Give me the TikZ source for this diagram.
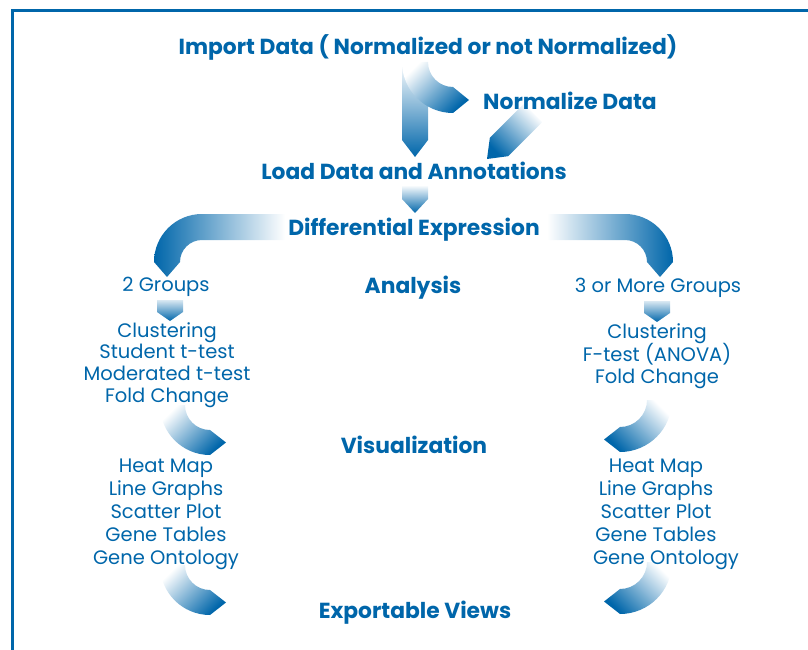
\documentclass[tikz,border=0pt]{standalone}
\usepackage{fontspec}
\setmainfont{Poppins}
\usetikzlibrary{calc}

\definecolor{flowblue}{RGB}{0,102,170}

\tikzset{
  heading/.style={text=flowblue, font=\fontsize{21.8}{26}\selectfont\bfseries,
    anchor=base, inner sep=0pt},
  listtext/.style={text=flowblue, font=\fontsize{19.5}{23}\selectfont,
    anchor=base, inner sep=0pt},
  fadedown/.style={top color=white, bottom color=flowblue},
}

% straight band arrow: start, tip, tip length
\newcommand\bandarrow[4][]{%
  \path[#1] ($(#2)!13pt!90:(#3)$) -- ($($(#3)!#4!(#2)$)!13pt!90:(#3)$) -- (#3)
    -- ($($(#3)!#4!(#2)$)!13pt!-90:(#3)$) -- ($(#2)!13pt!-90:(#3)$) -- cycle;}

\begin{document}
\begin{tikzpicture}[x=1pt, y=-1pt]
  \useasboundingbox (0,0) rectangle (808,650);
  % frame
  \draw[flowblue, line width=3pt] (808,10.5) -- (12,10.5) -- (12,650);

  % connector ends
  \coordinate (import-out) at (415,62);
  \coordinate (load-in) at (415,157);
  \coordinate (norm-c) at (453,62);
  \coordinate (norm-out) at (533,113);
  \coordinate (load-in2) at (487,159);
  \coordinate (load-out) at (415,185);
  \coordinate (diff-in) at (415,213);
  \coordinate (diff-l) at (202,262);
  \coordinate (diff-r) at (625,262);
  \coordinate (two-out) at (170,300);
  \coordinate (lstat-in) at (170,321);
  \coordinate (more-out) at (657,301);
  \coordinate (rstat-in) at (657,322);
  \coordinate (lview-c) at (210,405);
  \coordinate (lexp-c) at (210,565);
  \coordinate (rview-c) at (620,400);
  \coordinate (rexp-c) at (620,562);

  % import -> load, import -> normalize
  \bandarrow[fadedown]{import-out}{load-in}{17pt}
  \path[fadedown, shading angle=45] ($(norm-c)+(180:51)$)
    arc[start angle=180, end angle=90, radius=51]
    -- ($(norm-c)+(90:38)+(0:16)$) -- ($(norm-c)+(90:25)$)
    arc[start angle=90, end angle=180, radius=25] -- cycle;
  % normalize -> load
  \bandarrow[fadedown, shading angle=-45]{norm-out}{load-in2}{17pt}
  % load -> differential expression
  \bandarrow[fadedown]{load-out}{diff-in}{14pt}

  % split into the two branches
  \path[left color=flowblue, right color=white] (285,214) -- ($(diff-l)+(270:48)$)
    arc[start angle=270, end angle=180, radius=48]
    -- ($(diff-l)+(180:35)+(90:15)$) -- ($(diff-l)+(180:22)$)
    arc[start angle=180, end angle=270, radius=22] -- (285,240) -- cycle;
  \path[left color=white, right color=flowblue] (547,214) -- ($(diff-r)+(270:48)$)
    arc[start angle=270, end angle=360, radius=48]
    -- ($(diff-r)+(0:35)+(90:15)$) -- ($(diff-r)+(0:22)$)
    arc[start angle=360, end angle=270, radius=22] -- (547,240) -- cycle;

  \bandarrow[top color=flowblue!15, bottom color=flowblue]{two-out}{lstat-in}{9pt}
  \bandarrow[top color=flowblue!15, bottom color=flowblue]{more-out}{rstat-in}{9pt}

  % left side curves
  \foreach \c in {lview-c, lexp-c}
    \path[fadedown, shading angle=45] ($(\c)+(180:50)$)
      arc[start angle=180, end angle=90, radius=50]
      -- ($(\c)+(90:37.5)+(0:16)$) -- ($(\c)+(90:25)$)
      arc[start angle=90, end angle=180, radius=25] -- cycle;
  % right side curves
  \foreach \c in {rview-c, rexp-c}
    \path[fadedown, shading angle=-45] ($(\c)+(0:52)$)
      arc[start angle=0, end angle=90, radius=52]
      -- ($(\c)+(90:39.5)+(180:16)$) -- ($(\c)+(90:27)$)
      arc[start angle=90, end angle=0, radius=27] -- cycle;

  % main steps
  \node[heading] (import) at (428,55) {Import Data ( Normalized or not Normalized)};
  \node[heading] (normalize) at (570,110) {Normalize Data};
  \node[heading] (load) at (414,179) {Load Data and Annotations};
  \node[heading] (diffexp) at (414,235) {Differential Expression};
  \node[heading] (analysis) at (413,293) {Analysis};
  \node[heading] (visual) at (414,453) {Visualization};
  \node[heading] (export) at (415,618) {Exportable Views};

  \node[listtext] (twogroups) at (166,291) {2 Groups};
  \node[listtext] (moregroups) at (658,292) {3 or More Groups};

  % the lists
  \foreach \txt [count=\i from 0] in {Clustering, Student t-test, Moderated t-test, Fold Change}
    \node[listtext] (lstat\i) at (167,337+21.7*\i) {\txt};
  \foreach \txt [count=\i from 0] in {Clustering, F-test (ANOVA), Fold Change}
    \node[listtext] (rstat\i) at (657,338.5+22.5*\i) {\txt};
  \foreach \txt/\dx [count=\i from 0] in {Heat Map/0, Line Graphs/0, Scatter Plot/0, Gene Tables/0, Gene Ontology/0}
    \node[listtext] (lview\i) at (166+\dx,472.5+23*\i) {\txt};
  \foreach \txt/\dx [count=\i from 0] in {Heat Map/0, Line Graphs/0, Scatter Plot/0, Gene Tables/0, Gene Ontology/10}
    \node[listtext] (rview\i) at (656+\dx,472.5+23*\i) {\txt};
\end{tikzpicture}
\end{document}
